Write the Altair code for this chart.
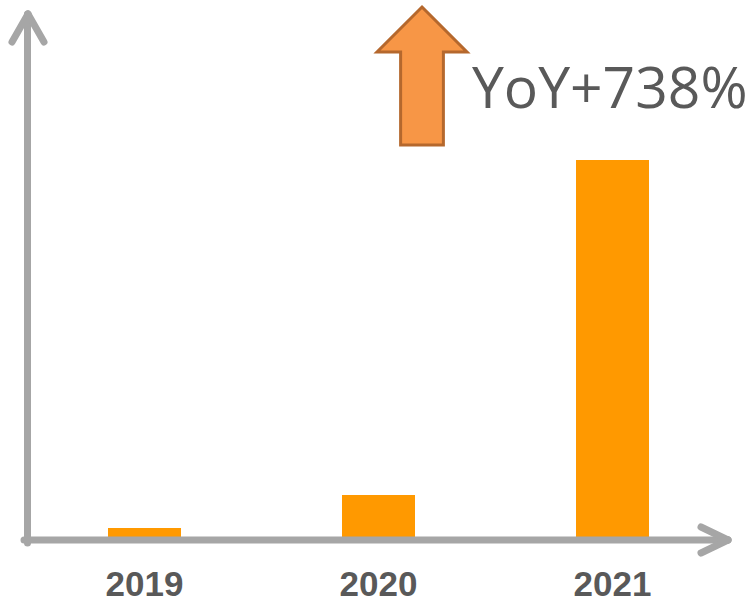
import altair as alt
import pandas as pd

years = [2019, 2020, 2021]
year_labels = ["2019", "2020", "2021"]
values = [12, 45, 380]
yoy_text = "YoY+738%"

bars_df = pd.DataFrame({"year": years, "label": year_labels, "value": values})

W, H = 753, 540
x_scale = alt.Scale(domain=[2018.3825, 2021.6004], nice=False, zero=False, padding=0)
y_scale = alt.Scale(domain=[0, 540], nice=False)

bars = alt.Chart(bars_df).mark_bar(width=73, color="#FF9900").encode(
    x=alt.X("year:Q", scale=x_scale, axis=None),
    y=alt.Y("value:Q", scale=y_scale, axis=None),
)

labels = alt.Chart(bars_df).mark_text(
    font="Liberation Sans", fontSize=35, fontWeight="bold", color="#595959",
    baseline="alphabetic", align="center",
).encode(
    x=alt.X("year:Q", scale=x_scale, axis=None),
    y=alt.value(596),
    text="label:N",
)

# axis arrows (decoration)
seg_df = pd.DataFrame({
    "x": [27.5, 28, 28, 24, 728, 728],
    "x2": [27.5, 12, 44, 728, 701, 701],
    "y": [543, 14, 14, 540, 540, 540],
    "y2": [14, 42, 42, 540, 527, 553],
})
axes = alt.Chart(seg_df).mark_rule(color="#A6A6A6", strokeWidth=7, strokeCap="round").encode(
    x=alt.X("x:Q", scale=None),
    x2="x2:Q",
    y=alt.Y("y:Q", scale=None),
    y2="y2:Q",
)

arrow_path = "M0,-1 L0.652,-0.348 L0.31,-0.348 L0.31,1 L-0.31,1 L-0.31,-0.348 L-0.652,-0.348 Z"
big_arrow = alt.Chart(pd.DataFrame({"a": [0]})).mark_point(
    shape=arrow_path, size=19044, filled=True, fill="#F79646", stroke="#B5682D",
    strokeWidth=3, opacity=1,
).encode(x=alt.value(422), y=alt.value(76))

yoy = alt.Chart(pd.DataFrame({"t": [yoy_text]})).mark_text(
    font="Open Sans", fontSize=57, color="#595959", align="left", baseline="alphabetic",
).encode(x=alt.value(472), y=alt.value(108), text="t:N")

chart = alt.layer(bars, axes, labels, big_arrow, yoy).properties(
    width=W, height=H,
    padding={"left": 0, "top": 0, "right": 0, "bottom": 60},
    autosize=alt.AutoSizeParams(type="none"),
).configure_view(stroke=None)

chart.save("out.html", embed_options={"renderer": "svg", "actions": False})
